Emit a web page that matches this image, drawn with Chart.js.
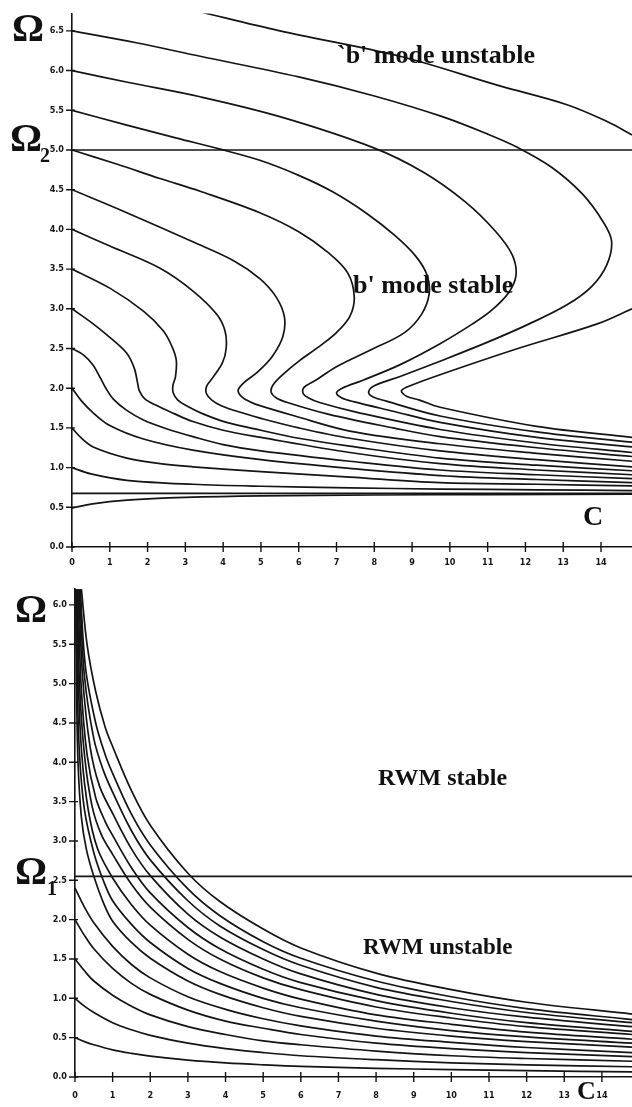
<!DOCTYPE html>
<html>
<head>
<meta charset="utf-8">
<script src="https://cdn.jsdelivr.net/npm/chart.js"></script>
<style>
  body { margin: 0; background: #fff; }
  #page { position: relative; width: 632px; height: 1107px; overflow: hidden; background: #fff; }
  canvas { position: absolute; left: 0; }
  .lbl { position: absolute; font-family: "Liberation Serif", "Times New Roman", serif; font-weight: bold; line-height: 1; color: #111; white-space: nowrap; }
</style>
</head>
<body>
<div id="page">
  <canvas id="top-chart" width="632" height="575" style="top:0"></canvas>
  <canvas id="bottom-chart" width="632" height="532" style="top:575px"></canvas>

  <div class="lbl" style="left:12px; top:8px; font-size:40px">Ω</div>
  <div class="lbl" style="left:10px; top:118px; font-size:40px">Ω</div>
  <div class="lbl" style="left:40px; top:145px; font-size:20px">2</div>
  <div class="lbl" style="left:337px; top:42px; font-size:26px">`b' mode unstable</div>
  <div class="lbl" style="left:353px; top:272px; font-size:26px">b' mode stable</div>
  <div class="lbl" style="left:583px; top:502px; font-size:28px">C</div>

  <div class="lbl" style="left:15px; top:589px; font-size:40px">Ω</div>
  <div class="lbl" style="left:15px; top:851px; font-size:40px">Ω</div>
  <div class="lbl" style="left:47px; top:878px; font-size:20px">1</div>
  <div class="lbl" style="left:378px; top:765px; font-size:24px">RWM stable</div>
  <div class="lbl" style="left:363px; top:935px; font-size:23px">RWM unstable</div>
  <div class="lbl" style="left:577px; top:1078px; font-size:26px">C</div>
</div>

<script>
// tick values
const xTicks = [0, 1, 2, 3, 4, 5, 6, 7, 8, 9, 10, 11, 12, 13, 14]
const topYTicks = [0, 0.5, 1, 1.5, 2, 2.5, 3, 3.5, 4, 4.5, 5, 5.5, 6, 6.5]
const bottomYTicks = [0, 0.5, 1, 1.5, 2, 2.5, 3, 3.5, 4, 4.5, 5, 5.5, 6]

// top panel: 'b' mode contours, [C, Omega]
const omega2 = [[0, 5.0], [14.82, 5.0]]
const asymptote = [[0, 0.675], [14.82, 0.675]]
const top05 = [[0, 0.49], [0.5, 0.54], [1.45, 0.59], [3, 0.625], [5, 0.645], [8, 0.655], [11, 0.66], [14.82, 0.665]]
const top10 = [[0, 1.0], [0.5, 0.92], [1.45, 0.84], [3.2, 0.79], [5, 0.765], [7.35, 0.745], [9.74, 0.73], [12.3, 0.72], [14.82, 0.71]]
const top15 = [[0, 1.5], [0.25, 1.37], [0.56, 1.26], [1.45, 1.12], [2.33, 1.05], [3.2, 1.01], [5, 0.95], [7.35, 0.88], [9.74, 0.81], [12.3, 0.79], [14.82, 0.77]]
const top20 = [[0, 2.0], [0.25, 1.84], [0.56, 1.69], [1.0, 1.53], [1.89, 1.36], [3.2, 1.22], [5, 1.10], [7.35, 0.99], [9.74, 0.90], [12.3, 0.85], [14.82, 0.81]]
const top25 = [[0, 2.5], [0.3, 2.42], [0.56, 2.29], [0.75, 2.13], [0.92, 1.98], [1.1, 1.86], [1.45, 1.72], [1.89, 1.60], [2.5, 1.49], [3.2, 1.39], [4, 1.29], [5, 1.21], [7.35, 1.08], [9.74, 0.97], [12.3, 0.91], [14.82, 0.86]]
const top30 = [[0, 3.0], [0.56, 2.81], [1.0, 2.64], [1.45, 2.44], [1.65, 2.25], [1.73, 2.08], [1.78, 1.97], [1.92, 1.87], [2.2, 1.79], [2.7, 1.68], [3.2, 1.58], [4, 1.47], [5, 1.38], [7.35, 1.19], [9.74, 1.05], [12.3, 0.97], [14.82, 0.91]]
const top35 = [[0, 3.5], [1.0, 3.26], [1.89, 2.97], [2.42, 2.72], [2.65, 2.52], [2.76, 2.35], [2.74, 2.15], [2.67, 2.03], [2.68, 1.94], [2.8, 1.85], [3.03, 1.78], [3.5, 1.67], [4.09, 1.57], [5, 1.47], [6, 1.37], [7.35, 1.27], [9.74, 1.12], [12.3, 1.03], [14.82, 0.96]]
const top40 = [[0, 4.0], [1.0, 3.79], [2.33, 3.51], [3.21, 3.22], [3.83, 2.93], [4.05, 2.72], [4.08, 2.5], [3.98, 2.32], [3.72, 2.13], [3.56, 2.02], [3.56, 1.93], [3.7, 1.85], [3.95, 1.78], [4.5, 1.69], [5, 1.62], [6, 1.5], [7.35, 1.37], [9.74, 1.21], [12.3, 1.10], [14.82, 1.01]]
const top45 = [[0, 4.5], [1.45, 4.21], [3.21, 3.84], [4.3, 3.6], [4.97, 3.38], [5.4, 3.15], [5.62, 2.9], [5.58, 2.65], [5.3, 2.4], [4.9, 2.2], [4.55, 2.07], [4.4, 1.98], [4.45, 1.91], [4.62, 1.85], [4.85, 1.80], [5.9, 1.65], [7.35, 1.46], [9.74, 1.30], [12.3, 1.18], [14.82, 1.08]]
const top50 = [[0, 5.0], [1.2, 4.82], [2.33, 4.64], [3.39, 4.48], [4.97, 4.21], [6.0, 3.97], [6.8, 3.7], [7.3, 3.45], [7.47, 3.15], [7.35, 2.9], [7.0, 2.7], [6.5, 2.51], [6.03, 2.35], [5.6, 2.18], [5.32, 2.04], [5.27, 1.95], [5.4, 1.88], [5.7, 1.82], [6.8, 1.67], [8.5, 1.50], [9.74, 1.39], [12.3, 1.25], [14.82, 1.14]]
const top55 = [[0, 5.5], [1.4, 5.32], [2.77, 5.15], [3.92, 5.01], [4.97, 4.87], [6.0, 4.68], [6.91, 4.47], [7.8, 4.2], [8.55, 3.92], [9.1, 3.66], [9.4, 3.42], [9.45, 3.18], [9.25, 2.93], [8.8, 2.7], [7.9, 2.48], [7.0, 2.27], [6.45, 2.1], [6.14, 2.01], [6.12, 1.93], [6.25, 1.88], [6.55, 1.82], [7.6, 1.69], [9.74, 1.48], [12.3, 1.31], [14.82, 1.19]]
const top60 = [[0, 6.0], [1.5, 5.85], [3.39, 5.67], [5.5, 5.42], [7.97, 5.03], [9.3, 4.72], [10.4, 4.35], [11.2, 3.98], [11.65, 3.68], [11.75, 3.42], [11.55, 3.2], [11.1, 2.98], [10.6, 2.81], [9.74, 2.56], [8.7, 2.3], [7.7, 2.1], [7.15, 2.0], [7.0, 1.94], [7.13, 1.88], [7.45, 1.83], [8.5, 1.71], [9.74, 1.57], [12.3, 1.38], [14.82, 1.26]]
const top65 = [[0, 6.5], [1.7, 6.35], [3.39, 6.18], [6.0, 5.92], [8.0, 5.68], [9.8, 5.42], [11.0, 5.2], [11.8, 5.03], [12.7, 4.78], [13.5, 4.45], [14.05, 4.1], [14.28, 3.85], [14.15, 3.55], [13.75, 3.28], [13.1, 3.05], [12.1, 2.81], [11.0, 2.58], [9.74, 2.34], [8.7, 2.15], [8.0, 2.03], [7.85, 1.95], [7.97, 1.89], [8.3, 1.84], [9.74, 1.65], [12.3, 1.45], [14.82, 1.32]]
const top70a = [[3.3, 6.75], [5.5, 6.5], [8.68, 6.18], [11.3, 5.81], [13.1, 5.57], [14.2, 5.35], [14.82, 5.19]]
const top70b = [[14.82, 3.0], [13.9, 2.81], [11.8, 2.5], [9.74, 2.17], [9.0, 2.04], [8.72, 1.97], [8.85, 1.9], [9.2, 1.85], [9.74, 1.76], [12.3, 1.52], [14.82, 1.38]]

// bottom panel: RWM contours, [C, Omega]
const omega1 = [[0, 2.55], [14.8, 2.55]]
const bot05 = [[0, 0.5], [0.25, 0.45], [0.5, 0.41], [1, 0.345], [1.5, 0.30], [2, 0.265], [3, 0.215], [4, 0.18], [5, 0.155], [6, 0.135], [8, 0.11], [10, 0.095], [12, 0.08], [14.8, 0.065]]
const bot10 = [[0, 1.0], [0.25, 0.9], [0.5, 0.82], [1, 0.69], [1.5, 0.6], [2, 0.53], [3, 0.43], [4, 0.36], [5, 0.31], [6, 0.27], [8, 0.22], [10, 0.18], [12, 0.155], [14.8, 0.13]]
const bot15 = [[0, 1.5], [0.25, 1.35], [0.5, 1.22], [1, 1.04], [1.5, 0.9], [2, 0.79], [3, 0.64], [4, 0.54], [5, 0.46], [6, 0.41], [8, 0.33], [10, 0.27], [12, 0.235], [14.8, 0.2]]
const bot20 = [[0, 2.0], [0.25, 1.8], [0.5, 1.63], [1, 1.38], [1.5, 1.19], [2, 1.05], [3, 0.85], [4, 0.71], [5, 0.62], [6, 0.54], [8, 0.43], [10, 0.36], [12, 0.31], [14.8, 0.26]]
const bot24 = [[0, 2.4], [0.25, 2.16], [0.5, 1.96], [1, 1.66], [1.5, 1.43], [2, 1.26], [3, 1.02], [4, 0.86], [5, 0.74], [6, 0.65], [8, 0.52], [10, 0.44], [12, 0.375], [14.8, 0.31]]
const bot6 = [[0.02, 6.2], [0.04, 5.0], [0.08, 4.0], [0.17, 3.3], [0.3, 2.9], [0.5, 2.55], [0.75, 2.22], [1, 1.98], [1.5, 1.71], [2, 1.51], [3, 1.22], [3.85, 1.05], [5, 0.88], [6, 0.77], [8, 0.62], [10, 0.52], [12, 0.45], [14.8, 0.38]]
const bot7 = [[0.03, 6.2], [0.06, 5.0], [0.12, 4.1], [0.25, 3.4], [0.5, 2.85], [0.75, 2.5], [1, 2.24], [1.5, 1.94], [2, 1.71], [3, 1.38], [3.85, 1.19], [5, 1.0], [6, 0.88], [8, 0.71], [10, 0.59], [12, 0.51], [14.8, 0.43]]
const bot8 = [[0.045, 6.2], [0.09, 5.0], [0.18, 4.1], [0.35, 3.4], [0.6, 2.9], [1, 2.53], [1.5, 2.19], [2, 1.93], [3, 1.56], [3.85, 1.34], [5, 1.13], [6, 0.99], [8, 0.79], [10, 0.67], [12, 0.57], [14.8, 0.48]]
const bot9 = [[0.06, 6.2], [0.12, 5.0], [0.25, 4.1], [0.45, 3.45], [0.7, 3.08], [1, 2.83], [1.5, 2.45], [2, 2.16], [3, 1.75], [3.85, 1.50], [5, 1.26], [6, 1.11], [8, 0.89], [10, 0.75], [12, 0.64], [14.8, 0.54]]
const bot10b = [[0.08, 6.2], [0.16, 5.0], [0.32, 4.1], [0.55, 3.55], [0.8, 3.25], [1, 3.07], [1.5, 2.66], [2, 2.34], [3, 1.9], [3.85, 1.63], [5, 1.37], [6, 1.2], [8, 0.97], [10, 0.81], [12, 0.69], [14.8, 0.58]]
const bot11 = [[0.1, 6.2], [0.2, 5.1], [0.4, 4.2], [0.65, 3.7], [1, 3.35], [1.5, 2.9], [2, 2.56], [3, 2.07], [3.85, 1.78], [5, 1.5], [6, 1.31], [8, 1.05], [10, 0.88], [12, 0.76], [14.8, 0.64]]
const bot12 = [[0.12, 6.2], [0.25, 5.1], [0.5, 4.3], [0.75, 3.9], [1, 3.62], [1.5, 3.13], [2, 2.76], [3, 2.24], [3.85, 1.92], [5, 1.62], [6, 1.42], [8, 1.14], [10, 0.96], [12, 0.82], [14.8, 0.69]]
const bot13 = [[0.14, 6.2], [0.28, 5.2], [0.55, 4.5], [0.8, 4.1], [1, 3.86], [1.5, 3.34], [2, 2.95], [3, 2.39], [3.85, 2.05], [5, 1.72], [6, 1.51], [8, 1.22], [10, 1.02], [12, 0.87], [14.8, 0.73]]
const bot14 = [[0.17, 6.2], [0.32, 5.5], [0.55, 4.9], [0.8, 4.45], [1, 4.2], [1.5, 3.64], [2, 3.2], [3, 2.59], [3.85, 2.23], [5, 1.88], [6, 1.64], [8, 1.32], [10, 1.11], [12, 0.95], [14.8, 0.80]]

const topCurves = [omega2, asymptote, top05, top10, top15, top20, top25, top30, top35, top40, top45, top50, top55, top60, top65, top70a, top70b]
const bottomCurves = [omega1, bot05, bot10, bot15, bot20, bot24, bot6, bot7, bot8, bot9, bot10b, bot11, bot12, bot13, bot14]

const INK = '#141414'
const tickFont = { family: '"Liberation Sans Narrow", "DejaVu Sans Condensed", "Liberation Sans", sans-serif', size: 9, weight: 'bold' }

// tick marks that cross the axis line, like the original plot
const crossTicks = {
    id: 'crossTicks',
    afterDraw(chart) {
        const ctx = chart.ctx
        const x = chart.scales.x
        const y = chart.scales.y
        ctx.save()
        ctx.strokeStyle = INK
        ctx.lineWidth = 1.4
        ctx.beginPath()
        x.ticks.forEach(t => {
            const px = x.getPixelForValue(t.value)
            ctx.moveTo(px, y.bottom - 5)
            ctx.lineTo(px, y.bottom + 5)
        })
        y.ticks.forEach(t => {
            const py = y.getPixelForValue(t.value)
            ctx.moveTo(x.left - 6, py)
            ctx.lineTo(x.left + 3, py)
        })
        ctx.stroke()
        ctx.restore()
    }
}

function makeChart(id, curves, cfg) {
    const datasets = curves.map(pts => ({
        data: pts.map(p => ({ x: p[0], y: p[1] })),
        showLine: true,
        borderColor: INK,
        borderWidth: 1.7,
        pointRadius: 0,
        tension: 0.35,
        fill: false
    }))
    return new Chart(document.getElementById(id), {
        type: 'scatter',
        data: { datasets: datasets },
        options: {
            responsive: false,
            animation: false,
            events: [],
            layout: { padding: { top: cfg.padTop, right: 0, left: 0, bottom: 0 } },
            plugins: { legend: { display: false }, tooltip: { enabled: false } },
            scales: {
                x: {
                    type: 'linear',
                    min: 0,
                    max: cfg.xMax,
                    afterFit: s => { s.height = cfg.xAxisHeight },
                    afterBuildTicks: s => { s.ticks = xTicks.map(v => ({ value: v })) },
                    border: { color: INK, width: 1.6 },
                    grid: { drawOnChartArea: false, drawTicks: false },
                    ticks: {
                        color: INK,
                        font: tickFont,
                        padding: cfg.xLabelPad,
                        autoSkip: false,
                        maxRotation: 0,
                        callback: v => String(v)
                    }
                },
                y: {
                    type: 'linear',
                    min: 0,
                    max: cfg.yMax,
                    afterFit: s => { s.width = cfg.yAxisWidth },
                    afterBuildTicks: s => { s.ticks = cfg.yTicks.map(v => ({ value: v })) },
                    border: { color: INK, width: 1.6 },
                    grid: { drawOnChartArea: false, drawTicks: false },
                    ticks: {
                        color: INK,
                        font: tickFont,
                        padding: 8,
                        autoSkip: false,
                        callback: v => Number(v).toFixed(1)
                    }
                }
            }
        },
        plugins: [crossTicks]
    })
}

makeChart('top-chart', topCurves, {
    padTop: 3, xMax: 14.82, yMax: 6.72, xAxisHeight: 28, yAxisWidth: 72, xLabelPad: 10, yTicks: topYTicks
})
makeChart('bottom-chart', bottomCurves, {
    padTop: 5, xMax: 14.8, yMax: 6.21, xAxisHeight: 30, yAxisWidth: 75, xLabelPad: 13, yTicks: bottomYTicks
})
</script>
</body>
</html>
